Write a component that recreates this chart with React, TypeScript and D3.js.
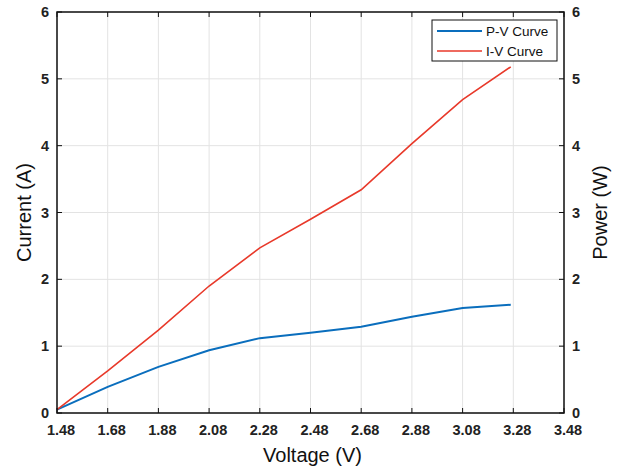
import React from "react";
import * as d3 from "d3";

const voltage = [1.48, 1.68, 1.88, 2.08, 2.28, 2.48, 2.68, 2.88, 3.08, 3.27];
const current = [0.05, 0.63, 1.24, 1.9, 2.47, 2.9, 3.34, 4.03, 4.69, 5.18];
const power = [0.05, 0.39, 0.69, 0.94, 1.12, 1.2, 1.29, 1.44, 1.57, 1.62];
const xTicks = [1.48, 1.68, 1.88, 2.08, 2.28, 2.48, 2.68, 2.88, 3.08, 3.28, 3.48];
const yTicks = [0, 1, 2, 3, 4, 5, 6];

const W = 618, H = 467;
const L = 57, R = 564, T = 12, B = 413;

export default function App() {
  const x = d3.scaleLinear().domain([1.48, 3.48]).range([L, R]);
  const yL = d3.scaleLinear().domain([0, 6]).range([B, T]);
  const yR = d3.scaleLinear().domain([0, 6]).range([B, T]);
  const lineI = d3.line<number>().x((_, i) => x(voltage[i])).y((d) => yL(d))(current) || "";
  const lineP = d3.line<number>().x((_, i) => x(voltage[i])).y((d) => yR(d))(power) || "";
  const font = "'Liberation Sans', Arial, sans-serif";
  return (
    <svg width={W} height={H} style={{ position: "absolute", left: 0, top: 0 }} fontFamily={font}>
      <rect width={W} height={H} fill="#fff" />
      {xTicks.map((t) => (
        <line key={"gx" + t} x1={x(t)} x2={x(t)} y1={T} y2={B} stroke="#e3e3e3" strokeWidth={1} />
      ))}
      {yTicks.map((t) => (
        <line key={"gy" + t} x1={L} x2={R} y1={yL(t)} y2={yL(t)} stroke="#e3e3e3" strokeWidth={1} />
      ))}
      <path d={lineP} fill="none" stroke="#0a6ebd" strokeWidth={2} />
      <path d={lineI} fill="none" stroke="#e8392a" strokeWidth={1.6} />
      <rect x={L} y={T} width={R - L} height={B - T} fill="none" stroke="#111" strokeWidth={1.5} />
      {xTicks.map((t) => (
        <g key={"tx" + t}>
          <line x1={x(t)} x2={x(t)} y1={B} y2={B - 5} stroke="#111" />
          <line x1={x(t)} x2={x(t)} y1={T} y2={T + 5} stroke="#111" />
          <text x={x(t) + 4} y={B + 22} textAnchor="middle" fontSize={14.5} fontWeight="bold" fill="#222">
            {t.toFixed(2)}
          </text>
        </g>
      ))}
      {yTicks.map((t) => (
        <g key={"ty" + t}>
          <line x1={L} x2={L + 5} y1={yL(t)} y2={yL(t)} stroke="#111" />
          <line x1={R} x2={R - 5} y1={yR(t)} y2={yR(t)} stroke="#111" />
          <text x={L - 8} y={yL(t) + 5} textAnchor="end" fontSize={14.5} fontWeight="bold" fill="#222">
            {t}
          </text>
          <text x={R + 8} y={yR(t) + 5} textAnchor="start" fontSize={14.5} fontWeight="bold" fill="#222">
            {t}
          </text>
        </g>
      ))}
      <text x={(L + R) / 2 + 2} y={462} textAnchor="middle" fontSize={20} fill="#111">Voltage (V)</text>
      <text transform={`translate(31,${(T + B) / 2}) rotate(-90)`} textAnchor="middle" fontSize={20} fill="#111">Current (A)</text>
      <text transform={`translate(607,${(T + B) / 2}) rotate(-90)`} textAnchor="middle" fontSize={20} fill="#111">Power (W)</text>
      <g>
        <rect x={432} y={20} width={125} height={41} fill="#fff" stroke="#111" strokeWidth={1} />
        <line x1={437} x2={482} y1={31} y2={31} stroke="#0a6ebd" strokeWidth={2} />
        <text x={486} y={36} fontSize={13.5} fill="#111">P-V Curve</text>
        <line x1={437} x2={482} y1={51} y2={51} stroke="#e8392a" strokeWidth={1.6} />
        <text x={486} y={56} fontSize={13.5} fill="#111">I-V Curve</text>
      </g>
    </svg>
  );
}
